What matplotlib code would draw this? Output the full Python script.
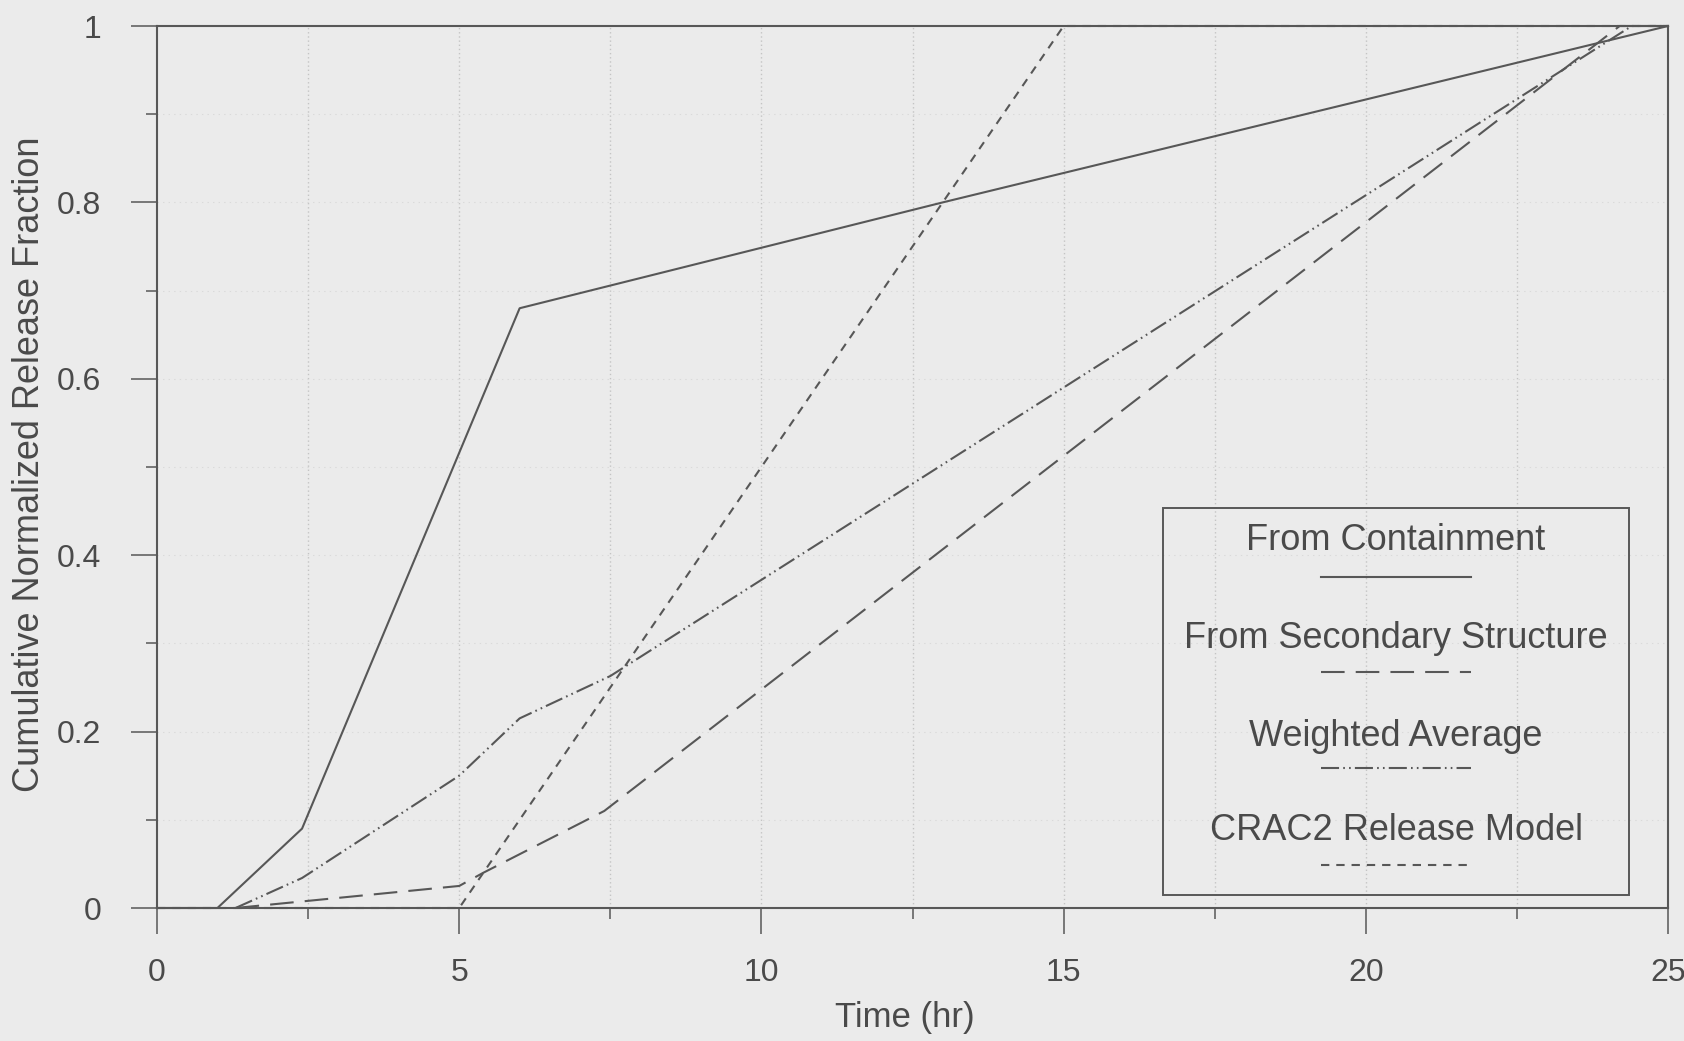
import matplotlib
matplotlib.use("Agg")
import matplotlib.pyplot as plt
from matplotlib.lines import Line2D
from matplotlib.patches import Rectangle
import numpy as np

# ---- data ----
t_containment = [0.0, 1.0, 2.4, 6.0, 13.0, 25.0]
f_containment = [0.0, 0.0, 0.09, 0.68, 0.80, 1.0]

t_secondary = [1.3, 5.0, 5.4, 7.4, 24.2, 25.0]
f_secondary = [0.0, 0.025, 0.04, 0.11, 1.0, 1.0]

t_weighted = [1.3, 2.4, 5.0, 6.0, 7.5, 24.4, 25.0]
f_weighted = [0.0, 0.034, 0.15, 0.215, 0.263, 1.0, 1.0]

t_crac2 = [0.0, 5.0, 15.0, 25.0]
f_crac2 = [0.0, 0.0, 1.0, 1.0]

legend_labels = ["From Containment", "From Secondary Structure",
                 "Weighted Average", "CRAC2 Release Model"]
x_ticks = [0, 5, 10, 15, 20, 25]
y_ticks = [0, 0.2, 0.4, 0.6, 0.8, 1.0]
y_ticklabels = ["0", "0.2", "0.4", "0.6", "0.8", "1"]

# ---- style ----
plt.rcParams['font.family'] = ['Liberation Sans', 'DejaVu Sans']
plt.rcParams['lines.scale_dashes'] = False
BG = '#ebebeb'
INK = '#575757'
TXT = '#4a4a4a'
W, H = 1684, 1041

fig = plt.figure(figsize=(W / 100, H / 100), dpi=100, facecolor=BG)
ax = fig.add_axes([157 / W, 133 / H, 1511 / W, 882 / H], facecolor=BG)

lw = 1.5
styles = [
    dict(linestyle='-'),
    dict(dashes=(17, 8)),
    dict(dashes=(13, 3, 1.2, 3, 1.2, 3)),
    dict(dashes=(6, 5)),
]
series = [(t_containment, f_containment), (t_secondary, f_secondary),
          (t_weighted, f_weighted), (t_crac2, f_crac2)]
for (tx, fy), st in zip(series, styles):
    ax.plot(tx, fy, color=INK, lw=lw, clip_on=False, **st)

ax.set_xlim(0, 25)
ax.set_ylim(0, 1)
ax.set_xticks(x_ticks)
ax.set_xticks(np.arange(2.5, 25, 5), minor=True)
ax.set_yticks(y_ticks)
ax.set_yticklabels(y_ticklabels)
ax.set_yticks(np.arange(0.1, 1.0, 0.2), minor=True)

ax.tick_params(axis='both', which='major', direction='out', length=19,
               width=1.1, color=INK, labelcolor=TXT, labelsize=23)
ax.tick_params(axis='x', which='major', pad=17)
ax.tick_params(axis='y', which='major', pad=21)
ax.tick_params(axis='both', which='minor', direction='out', length=8,
               width=1.1, color=INK)

# faint dotted grid
for xv in np.arange(2.5, 25, 2.5):
    ax.axvline(xv, color='#c4c4c4', lw=1.0, ls=(0, (1, 2)), zorder=0)
for yv in np.arange(0.1, 1.0, 0.1):
    ax.axhline(yv, color='#dadada', lw=0.8, ls=(0, (1, 3)), zorder=0)

for s in ax.spines.values():
    s.set_color(INK)
    s.set_linewidth(1.5)

ax.set_xlabel("Time (hr)", fontsize=25, color=TXT)
ax.set_ylabel("Cumulative Normalized Release Fraction", fontsize=26,
              color=TXT)
ax.xaxis.set_label_coords((905 - 157) / 1511, -0.106)
ax.yaxis.set_label_coords(-0.073, (908 - 464) / 882)

# ---- custom legend (text above each line sample) ----
def fx(px):
    return px / W

def fy_(py):
    return 1 - py / H

fig.patches.append(Rectangle((fx(1163), fy_(895)), fx(1629) - fx(1163),
                             fy_(508) - fy_(895), transform=fig.transFigure,
                             fill=False, edgecolor=INK, lw=1.4))
text_y = [541, 638, 737, 831]
line_y = [577, 672, 768, 865]
for lab, ty, ly, st in zip(legend_labels, text_y, line_y, styles):
    fig.text(fx(1396), fy_(ty), lab, ha='center', va='center', fontsize=26,
             color=TXT)
    fig.add_artist(Line2D([fx(1321), fx(1471)], [fy_(ly), fy_(ly)],
                          transform=fig.transFigure, color=INK, lw=lw, **st))

fig.savefig("out.png", dpi=100, facecolor=BG)
